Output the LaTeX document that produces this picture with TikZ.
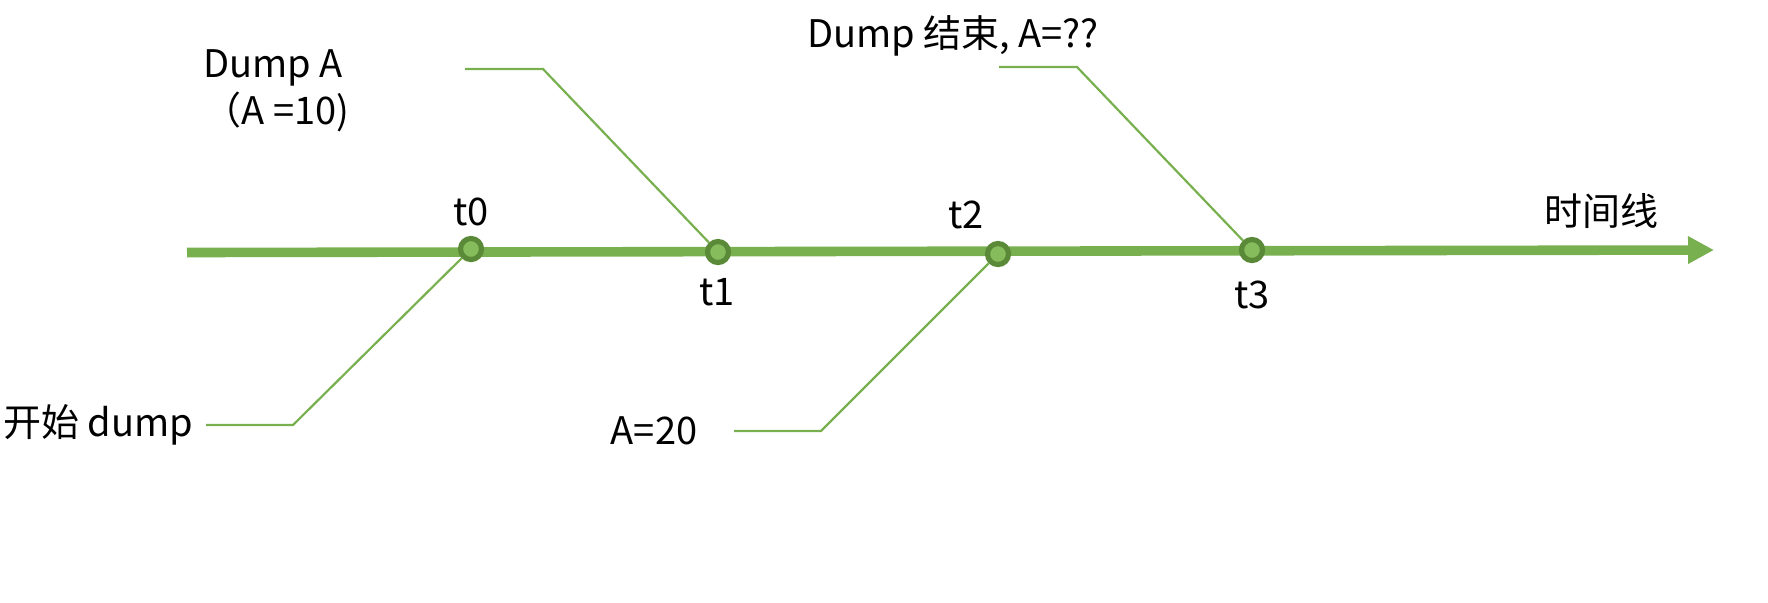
\documentclass[tikz,border=0pt]{standalone}
\usepackage{fontspec}
\setmainfont{Noto Sans CJK SC}
\usetikzlibrary{arrows.meta}
\definecolor{lg}{HTML}{78B050}
\definecolor{dg}{HTML}{5A8A38}
\definecolor{cf}{HTML}{86BC5C}
\tikzset{
  lbl/.style={font=\fontsize{19}{23}\selectfont, inner sep=0pt, align=left},
  pt/.style={circle, draw=dg, line width=2.6pt, fill=cf, minimum size=10.5pt, inner sep=0pt},
  conn/.style={draw=lg, line width=1.1pt},
  tl/.style={draw=lg, line width=4.8pt, -{Triangle[length=13pt,width=13pt]}}
}
\begin{document}
\begin{tikzpicture}[x=0.5pt,y=-0.5pt]
\useasboundingbox (0,0) rectangle (1768,602);
\coordinate (s) at (187,252.5);
\coordinate (e) at (1714,250);
\draw[tl] (s) -- (e);
\node[pt] (t0) at (471,249) {};
\node[pt] (t1) at (718,252) {};
\node[pt] (t2) at (998,254) {};
\node[pt] (t3) at (1252,250) {};
% labels
\node[lbl] (l0) at (471,212) {t0};
\node[lbl] (l1) at (717,292) {t1};
\node[lbl] (l2) at (966,215) {t2};
\node[lbl] (l3) at (1252,295) {t3};
\node[lbl] (tlx) at (1601,211) {时间线};
\node[lbl, anchor=west] (dA) at (203,68) {Dump A};
\node[lbl, anchor=west] (dA2) at (203,112) {（A =10)};
\node[lbl] (dend) at (953,36) {Dump 结束, A=??};
\node[lbl] (start) at (98,425) {开始 dump};
\node[lbl] (a20) at (654,431) {A=20};
% connectors
\coordinate (c1a) at (465,69);
\coordinate (c1b) at (543,69);
\coordinate (c3a) at (999,67);
\coordinate (c3b) at (1077,67);
\coordinate (c0a) at (206,425);
\coordinate (c0b) at (293,425);
\coordinate (c2a) at (734,431);
\coordinate (c2b) at (821,431);
\draw[conn] (c1a) -- (c1b) -- (t1);
\draw[conn] (c3a) -- (c3b) -- (t3);
\draw[conn] (c0a) -- (c0b) -- (t0);
\draw[conn] (c2a) -- (c2b) -- (t2);
\end{tikzpicture}
\end{document}
